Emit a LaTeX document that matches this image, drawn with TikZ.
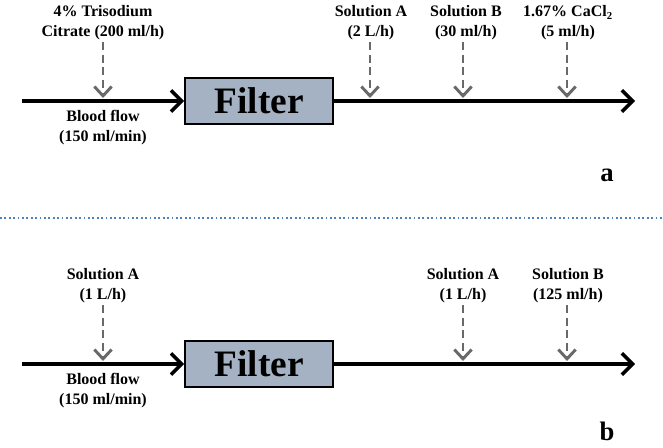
\documentclass[tikz,border=0pt]{standalone}
\usepackage{fontspec}
\setmainfont{Liberation Serif}
\usetikzlibrary{positioning}
\usetikzlibrary {arrows.meta}
\definecolor{filterfill}{RGB}{164,178,196}
\definecolor{feedgray}{RGB}{105,105,105}
\definecolor{sepblue}{RGB}{79,129,189}
\tikzset{filterbox/.style={rectangle,draw=black,fill=filterfill,line width=1.3pt,
inner sep=0pt,minimum height=35pt, minimum width=111pt,font=\fontsize{28}{30}\selectfont\bfseries}}
\tikzset{feedlabel/.style={rectangle,draw=none,align=center,
inner sep=1pt,font=\fontsize{12}{15}\selectfont\bfseries}}
\tikzset{flow/.style={line width=2.6pt,-{Straight Barb[length=8pt,width=16pt]}}}
\tikzset{feed/.style={line width=2.2pt,draw=feedgray,dash pattern=on 6pt off 3.5pt,
-{Straight Barb[length=7pt,width=13pt]}}}
\tikzset{panellabel/.style={inner sep=0pt,font=\fontsize{20}{24}\selectfont\bfseries}}

\begin{document}
\begin{tikzpicture}[x=0.75pt,y=-0.75pt]
        \useasboundingbox (0,0) rectangle (663,447);

        % panel a
        \node[filterbox] (filterA) at (259,101) {Filter};
        \coordinate (startA) at (22,101);
        \coordinate (endA) at (635,101);
        \draw[flow] (startA) -- (filterA.west);
        \draw[flow] (filterA.east) -- (endA);

        \node[feedlabel] (citrateA) at (103,23) {4\% Trisodium\\Citrate (200 ml/h)};
        \node[feedlabel] (bloodA) at (103,128) {Blood flow\\(150 ml/min)};
        \node[feedlabel] (solAa) at (371,23) {Solution A\\(2 L/h)};
        \node[feedlabel] (solBa) at (466,23) {Solution B\\(30 ml/h)};
        \node[feedlabel] (calcA) at (568,23) {1.67\% CaCl\textsubscript{2}\\(5 ml/h)};

        \coordinate (citrateAtip) at (103,98);
        \coordinate (solAatip) at (370,98);
        \coordinate (solBatip) at (463,98);
        \coordinate (calcAtip) at (567,98);
        \draw[feed] (citrateA.south -| citrateAtip) -- (citrateAtip);
        \draw[feed] (solAa.south -| solAatip) -- (solAatip);
        \draw[feed] (solBa.south -| solBatip) -- (solBatip);
        \draw[feed] (calcA.south -| calcAtip) -- (calcAtip);

        \node[panellabel] (labA) at (607,175) {a};

        % separator
        \draw[sepblue,line width=1.3pt,dash pattern=on 1.3pt off 2pt] (0,218) -- (663,218);

        % panel b
        \node[filterbox] (filterB) at (259,364) {Filter};
        \coordinate (startB) at (22,364);
        \coordinate (endB) at (635,364);
        \draw[flow] (startB) -- (filterB.west);
        \draw[flow] (filterB.east) -- (endB);

        \node[feedlabel] (solAb) at (103,286) {Solution A\\(1 L/h)};
        \node[feedlabel] (bloodB) at (103,391) {Blood flow\\(150 ml/min)};
        \node[feedlabel] (solAbb) at (463,286) {Solution A\\(1 L/h)};
        \node[feedlabel] (solBb) at (568,286) {Solution B\\(125 ml/h)};

        \coordinate (solAbtip) at (103,361);
        \coordinate (solAbbtip) at (463,361);
        \coordinate (solBbtip) at (567,361);
        \draw[feed] (solAb.south -| solAbtip) -- (solAbtip);
        \draw[feed] (solAbb.south -| solAbbtip) -- (solAbbtip);
        \draw[feed] (solBb.south -| solBbtip) -- (solBbtip);

        \node[panellabel] (labB) at (607,431) {b};

\end{tikzpicture}
\end{document}
